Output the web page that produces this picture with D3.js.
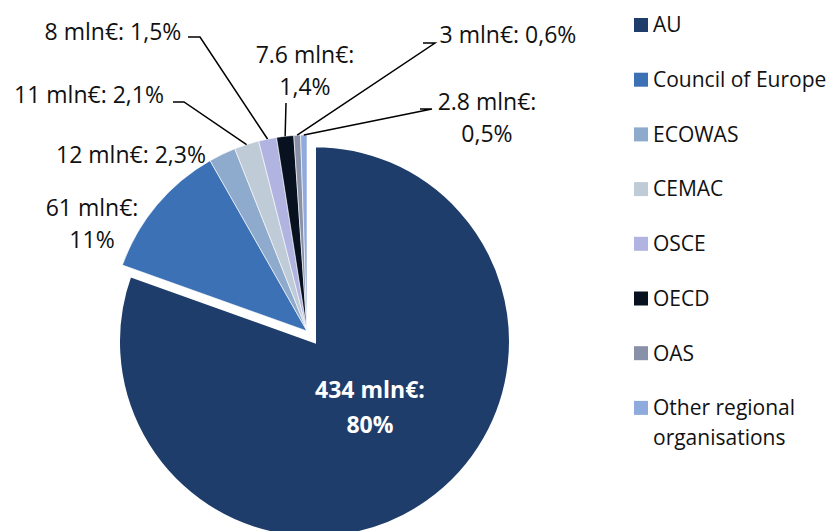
<!DOCTYPE html>
<html>
<head>
<meta charset="utf-8">
<script src="https://cdn.jsdelivr.net/npm/d3@7"></script>
<style>
  body { margin: 0; background: #fff; }
  text { font-family: "Open Sans", sans-serif; fill: #111; }
</style>
</head>
<body>
<div id="chart"></div>
<script>
var names = ["AU", "Council of Europe", "ECOWAS", "CEMAC", "OSCE", "OECD", "OAS", "Other regional organisations"];
var values = [434, 61, 12, 11, 8, 7.6, 3, 2.8];
var labels = [["434 mln€:", "80%"], ["61 mln€:", "11%"], ["12 mln€: 2,3%"], ["11 mln€: 2,1%"], ["8 mln€: 1,5%"], ["7.6 mln€:", "1,4%"], ["3 mln€: 0,6%"], ["2.8 mln€:", "0,5%"]];
var colors = ["#1f3d6b", "#3d71b5", "#8eaacc", "#bfcbd7", "#b1b4e0", "#08111f", "#8891a7", "#8faadc"];

var width = 826, height = 531;
var cx = 307, cy = 331, radius = 196;
var explode = 13;

// hand placed label positions (Excel style), text centre + leader start
var labelLayout = [
  {x: 0, y: 0, inside: true},
  {x: 92, y: 208},
  {x: 131, y: 155},
  {x: 89, y: 95},
  {x: 113, y: 32},
  {x: 305, y: 55, leader: [286, 103]},
  {x: 508, y: 35, leader: [435, 43], elbow: [423, 43]},
  {x: 487, y: 102, leader: [432, 109], elbow: [420, 109]}
];
labelLayout[3].leader = [184, 102]; labelLayout[3].elbow = [173, 102];
labelLayout[4].leader = [200, 37]; labelLayout[4].elbow = [188, 37];

var svg = d3.select("#chart").append("svg")
  .attr("width", width)
  .attr("height", height);

var pie = d3.pie().sort(null).value(function(d) { return d; });
var arcs = pie(values);

var arc = d3.arc().innerRadius(0).outerRadius(radius);
var edge = d3.arc().innerRadius(radius).outerRadius(radius);

var g = svg.append("g").attr("transform", "translate(" + cx + "," + cy + ")");

g.selectAll("path.slice")
  .data(arcs)
  .enter().append("path")
    .attr("class", "slice")
    .attr("transform", function(d, i) {
      if (i != 0) return null;
      var a = (d.startAngle + d.endAngle) / 2;
      return "translate(" + (explode * Math.sin(a)) + "," + (-explode * Math.cos(a)) + ")";
    })
    .attr("d", arc)
    .attr("fill", function(d, i) { return colors[i]; })
    .attr("stroke", "#fff")
    .attr("stroke-width", function(d, i) { return i == 0 ? 3 : 0.6; });

// leader lines
arcs.forEach(function(d, i) {
  var lay = labelLayout[i];
  if (!lay.leader) return;
  var p = edge.centroid(d);
  var pts = [];
  if (lay.elbow) pts.push(lay.elbow);
  pts.push(lay.leader);
  pts.push([p[0] + cx, p[1] + cy]);
  svg.append("path")
    .attr("d", d3.line()(pts))
    .attr("fill", "none")
    .attr("stroke", "#000")
    .attr("stroke-width", 1.5);
});

// data labels
arcs.forEach(function(d, i) {
  var lay = labelLayout[i];
  var x = lay.x, y = lay.y, gap = 32;
  var t = svg.append("text")
    .attr("text-anchor", "middle")
    .style("font-size", "23px");
  if (lay.inside) {
    var c = arc.centroid(d);
    var a = (d.startAngle + d.endAngle) / 2;
    x = cx + c[0] + explode * Math.sin(a) - 1;
    y = cy + c[1] - explode * Math.cos(a) - 32;
    gap = 35;
    t.style("fill", "#fff").style("font-weight", "bold").style("font-size", "23px");
  }
  labels[i].forEach(function(line, k) {
    t.append("tspan")
      .attr("x", x)
      .attr("y", y + k * gap)
      .attr("dy", "0.35em")
      .text(line);
  });
});

// legend
var legend = svg.append("g").attr("transform", "translate(634,25)");
names.forEach(function(n, i) {
  var row = legend.append("g").attr("transform", "translate(0," + (i * 54.7) + ")");
  row.append("rect")
    .attr("x", 0).attr("y", -7)
    .attr("width", 14).attr("height", 14)
    .attr("fill", colors[i]);
  var words = n == "Other regional organisations" ? ["Other regional", "organisations"] : [n];
  var t = row.append("text").style("font-size", "21px");
  words.forEach(function(w, k) {
    t.append("tspan").attr("x", 19).attr("y", k * 30).attr("dy", "0.35em").text(w);
  });
});
</script>
</body>
</html>
